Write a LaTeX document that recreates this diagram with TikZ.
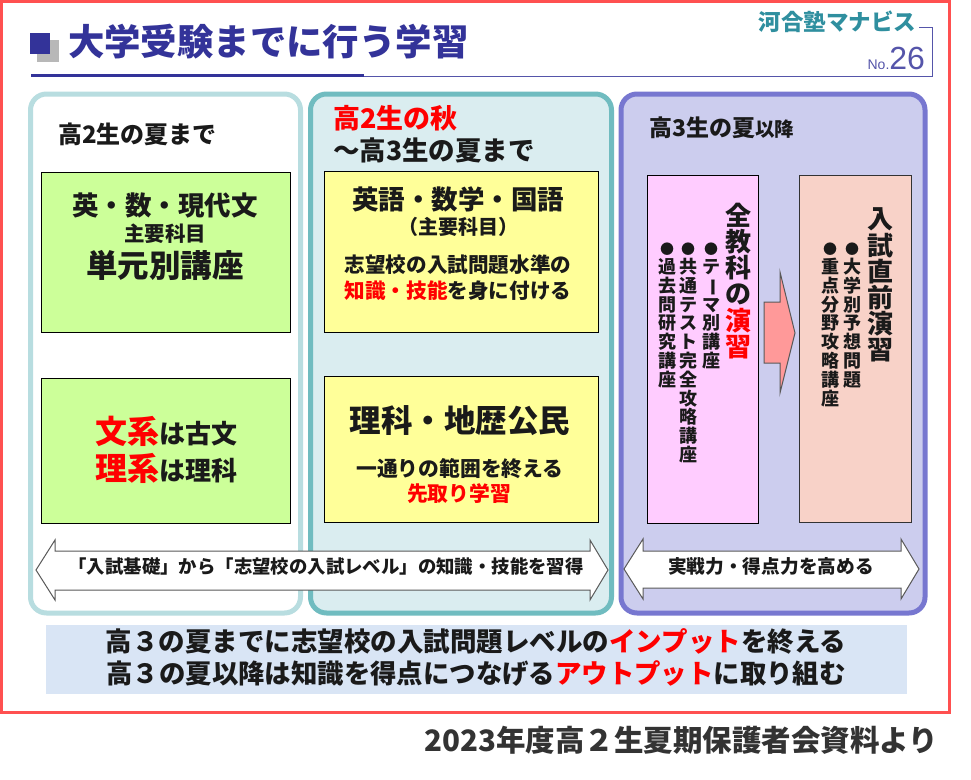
\documentclass[tikz,border=0pt]{standalone}
\usepackage{fontspec}
\usepackage{graphicx}
\setmainfont{Noto Sans CJK JP}
\newfontfamily\arialish{Liberation Sans}
\newcommand{\fsz}[2]{\fontsize{#1}{#2}\selectfont}
\newcommand{\redt}[1]{\textcolor{red}{#1}}
\newcommand{\bul}{{\fontsize{14}{18}\selectfont ●}}
\definecolor{frameRed}{HTML}{FF5050}
\definecolor{titleBlue}{HTML}{333399}
\definecolor{ruleBlue}{HTML}{5555AA}
\definecolor{logoTeal}{HTML}{2F8F9F}
\definecolor{inkDark}{HTML}{1A1A1A}
\definecolor{panelAedge}{HTML}{B8DDE0}
\definecolor{panelBedge}{HTML}{70BCC0}
\definecolor{panelBfill}{HTML}{DAEDF0}
\definecolor{panelCedge}{HTML}{7777D0}
\definecolor{panelCfill}{HTML}{CCCDEE}
\definecolor{boxGreen}{HTML}{CCFF99}
\definecolor{boxYellow}{HTML}{FFFF99}
\definecolor{boxPink}{HTML}{FFCCFF}
\definecolor{boxSalmon}{HTML}{F8D2C8}
\definecolor{arrowPink}{HTML}{FF9999}
\definecolor{bandBlue}{HTML}{D9E5F5}
\tikzset{
  x=1pt,y=-1pt,
  lab/.style={inner sep=0pt,outer sep=0pt,text=inkDark,font=\bfseries,align=center},
  panel/.style={rounded corners=16pt,line width=5pt},
  box/.style={draw=black,line width=0.8pt},
  block/.style={draw=black!65,line width=1pt,fill=white},
  colbig/.style={lab,anchor=north,font=\bfseries\fsz{26}{26.2}},
  colsmall/.style={lab,anchor=north,font=\bfseries\fsz{18}{18.8}},
}
\begin{document}
\begin{tikzpicture}
\useasboundingbox (0,0) rectangle (971,779);
\fill[white] (0,0) rectangle (971,779);
\draw[frameRed,line width=3pt] (1,1) rectangle (949.5,712);
% title
\fill[black!28] (37,40) rectangle (59,62);
\fill[titleBlue] (30,33) rectangle (50,54);
\node[lab,anchor=west,text=titleBlue] (title) at (68,42) {\fsz{36.4}{40}大学受験までに行う学習};
\draw[titleBlue,line width=3.5pt] (31,75.5) -- (364,75.5);
\draw[ruleBlue,line width=0.8pt] (364,76) -- (932,76) -- (932,27) -- (919,27);
\node[lab,anchor=east,text=logoTeal] (logo) at (916,22) {\fsz{22.5}{26}河合塾マナビス};
\node[lab,anchor=east,text=ruleBlue,font=\arialish] (no) at (925,58) {\fsz{14}{16}No.\fsz{32}{34}26};
% panels
\draw[panel,draw=panelAedge,fill=white] (30.5,94) rectangle (300.5,613);
\draw[panel,draw=panelBedge,fill=panelBfill] (310.5,94) rectangle (611.5,613);
\draw[panel,draw=panelCedge,fill=panelCfill] (621,94) rectangle (925,613);
% headings
\node[lab,anchor=west] (h1) at (58,134) {\fsz{24}{28}高2生の夏まで};
\node[lab,anchor=west,text=red] (h2a) at (333,118) {\fsz{27}{30}高2生の秋};
\node[lab,anchor=west] (h2b) at (333,150) {\fsz{26.5}{30}～高3生の夏まで};
\node[lab,anchor=west] (h3) at (649,128) {\fsz{23}{26}高3生の夏\fsz{19.5}{20}以降};
% boxes
\node[box,fill=boxGreen,minimum width=249pt,minimum height=160pt] (b1) at (165.5,252) {};
\node[box,fill=boxGreen,minimum width=249pt,minimum height=145pt] (b2) at (165.5,450.5) {};
\node[box,fill=boxYellow,minimum width=274pt,minimum height=161pt] (b3) at (461,251.5) {};
\node[box,fill=boxYellow,minimum width=274pt,minimum height=146pt] (b4) at (461,449) {};
\node[box,fill=boxPink,minimum width=111pt,minimum height=348pt] (b5) at (702.5,349) {};
\node[box,draw=black!80,fill=boxSalmon,minimum width=112pt,minimum height=347pt] (b6) at (855,348.5) {};
% b1
\node[lab] (t1a) at (165,206) {\fsz{26.5}{30}英・数・現代文};
\node[lab] (t1b) at (165,234) {\fsz{20.5}{24}主要科目};
\node[lab] (t1c) at (165,265) {\fsz{31.5}{36}単元別講座};
% b2
\node[lab] (t2a) at (166,431) {\fsz{32}{36}\redt{文系}\fsz{26}{30}は古文};
\node[lab] (t2b) at (166,468) {\fsz{32}{36}\redt{理系}\fsz{26}{30}は理科};
% b3
\node[lab] (t3a) at (458,199) {\fsz{26.5}{30}英語・数学・国語};
\node[lab] (t3b) at (458,227) {\fsz{20}{24}（主要科目）};
\node[lab] (t3c) at (458,265) {\fsz{20.6}{24}志望校の入試問題水準の};
\node[lab] (t3d) at (458,291) {\fsz{20.6}{24}\redt{知識・技能}を身に付ける};
% b4
\node[lab] (t4a) at (460,421) {\fsz{31.5}{36}理科・地歴公民};
\node[lab] (t4b) at (460,469) {\fsz{20.8}{24}一通りの範囲を終える};
\node[lab,text=red] (t4c) at (459,494) {\fsz{20.8}{24}先取り学習};
% b5 vertical text
\node[colbig] (v1) at (738,203) {全\\教\\科\\の\\\redt{演}\\\redt{習}};
\node[colsmall] (v2) at (711,243) {\bul\\テ\\\rotatebox[origin=c]{-90}{ー}\\マ\\別\\講\\座};
\node[colsmall] (v3) at (688,243) {\bul\\共\\通\\テ\\ス\\ト\\完\\全\\攻\\略\\講\\座};
\node[colsmall] (v4) at (667,243) {\bul\\過\\去\\問\\研\\究\\講\\座};
% b6 vertical text
\node[colbig] (v5) at (880,208) {入\\試\\直\\前\\演\\習};
\node[colsmall] (v6) at (852,243) {\bul\\大\\学\\別\\予\\想\\問\\題};
\node[colsmall] (v7) at (830,243) {\bul\\重\\点\\分\\野\\攻\\略\\講\\座};
% block arrow
\draw[draw=black!65,line width=1pt,fill=arrowPink]
  (764,302) -- (780,302) -- (780,272) -- (795,333) -- (780,393) -- (780,363) -- (764,363) -- cycle;
% double arrows
\draw[block] (36,570) -- (55,540) -- (55,551) -- (590,551) -- (590,540) -- (608,570) -- (590,600) -- (590,590) -- (55,590) -- (55,600) -- cycle;
\node[lab] (a1) at (326,566) {\fsz{18.4}{22}「入試基礎」から「志望校の入試レベル」の知識・技能を習得};
\draw[block] (624,569) -- (643,539) -- (643,551) -- (901,551) -- (901,539) -- (919,569) -- (901,599) -- (901,588) -- (643,588) -- (643,599) -- cycle;
\node[lab] (a2) at (771,566) {\fsz{18.7}{22}実戦力・得点力を高める};
% band
\fill[bandBlue] (46,625) rectangle (907,694);
\node[lab] (s1) at (476,641) {\fsz{26.5}{30}高３の夏までに志望校の入試問題レベルの\redt{インプット}を終える};
\node[lab] (s2) at (476,673) {\fsz{26.4}{30}高３の夏以降は知識を得点につなげる\redt{アウトプット}に取り組む};
% caption
\node[lab,anchor=east,text=black!80] (cap) at (938,740) {\fsz{29.5}{32}2023年度高２生夏期保護者会資料より};
\end{tikzpicture}
\end{document}
